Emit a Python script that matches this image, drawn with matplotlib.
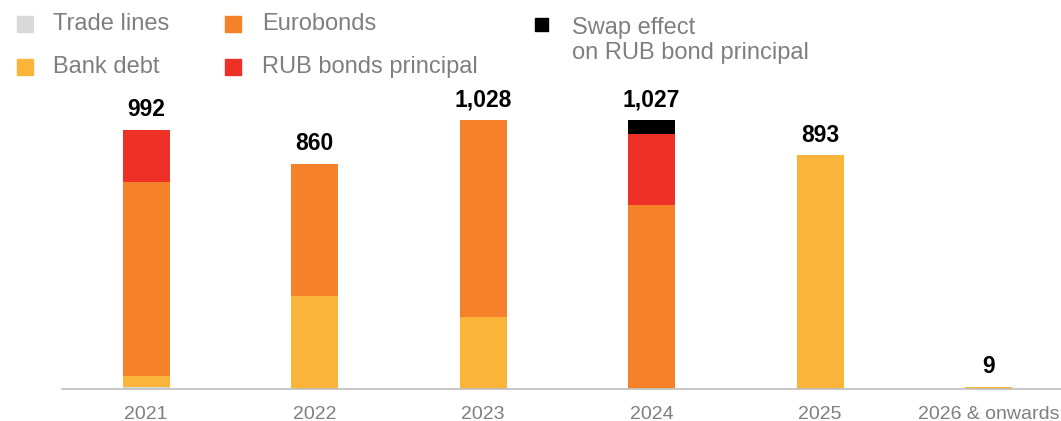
import matplotlib.pyplot as plt
from matplotlib.patches import Rectangle
import numpy as np

plt.rcParams['font.family'] = ['Liberation Sans', 'DejaVu Sans']

# debt maturity profile, by year
years = ['2021', '2022', '2023', '2024', '2025', '2026 & onwards']
trade_lines = [8, 0, 0, 0, 0, 0]
bank_debt = [42, 356, 276, 5, 893, 9]
eurobonds = [740, 504, 752, 700, 0, 0]
rub_bonds = [202, 0, 0, 272, 0, 0]
swap_effect = [0, 0, 0, 50, 0, 0]
totals = ['992', '860', '1,028', '1,027', '893', '9']

series = [
    ('Trade lines', trade_lines, '#d9d9d9'),
    ('Bank debt', bank_debt, '#fab43a'),
    ('Eurobonds', eurobonds, '#f5822a'),
    ('RUB bonds principal', rub_bonds, '#ee3127'),
    ('Swap effect\non RUB bond principal', swap_effect, '#000000'),
]

W, H = 1061, 421
fig = plt.figure(figsize=(W / 100, H / 100), dpi=100)

def fx(px):
    return px / W

def fy(py):
    return 1 - py / H

# axes: baseline at y=389 px, left edge at x=62 px
ax = fig.add_axes([fx(62), fy(389), 1 - fx(62), 389 / H])
x = np.arange(len(years))
bottom = np.zeros(len(years))
for name, vals, color in series:
    ax.bar(x, vals, width=0.28, bottom=bottom, color=color, linewidth=0)
    bottom += np.array(vals)

for xi, top, lab in zip(x, bottom, totals):
    ax.text(xi, top + 53, lab, ha='center', va='baseline', fontsize=16.5,
            fontweight='bold', color='black')

ax.set_xlim(-0.5, 5.43)
ax.set_ylim(0, 389 / 0.2615)
ax.set_yticks([])
ax.set_xticks(x)
ax.set_xticklabels(years, fontsize=14, color='#7f7f7f')
ax.tick_params(axis='x', length=0, pad=12)
for s in ['top', 'right', 'left']:
    ax.spines[s].set_visible(False)
ax.spines['bottom'].set_color('#bfbfbf')
ax.spines['bottom'].set_linewidth(1.2)
ax.patch.set_visible(False)

# legend drawn by hand in three columns
legend_pos = [
    (17, 24, 16),
    (17, 67, 16),
    (225, 24, 16),
    (225, 67, 16),
    (535, 24, 13),
]
text_x = [53, 53, 262, 262, 572]
for (name, vals, color), (mx, my, sz), tx in zip(series, legend_pos, text_x):
    fig.patches.append(Rectangle((fx(mx), fy(my + sz / 2)), fx(sz), sz / H,
                                 transform=fig.transFigure, color=color))
    if '\n' in name:
        fig.text(fx(tx), fy(my - 7), name, ha='left', va='top', fontsize=17,
                 color='#7f7f7f', linespacing=1.2)
    else:
        fig.text(fx(tx), fy(my), name, ha='left', va='center', fontsize=17,
                 color='#7f7f7f')

fig.savefig('out.png', dpi=100)
